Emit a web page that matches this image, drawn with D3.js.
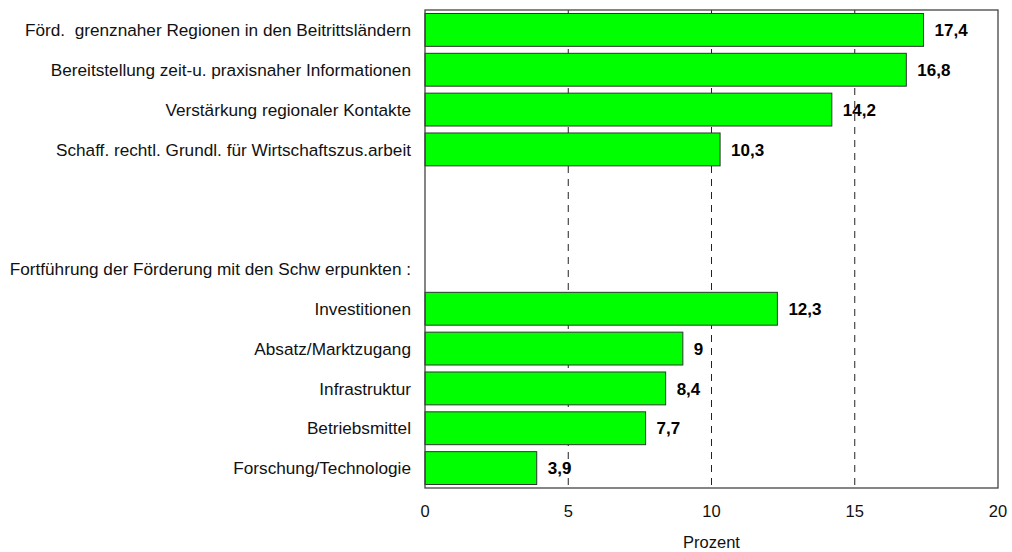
<!DOCTYPE html>
<html>
<head>
<meta charset="utf-8">
<script src="https://cdn.jsdelivr.net/npm/d3@7"></script>
<style>
  body { margin: 0; background: #fff; }
  svg { display: block; font-family: Arial, "Liberation Sans", sans-serif; }
  text { white-space: pre; }
</style>
</head>
<body>
<svg width="1012" height="552"></svg>
<script>
// rows from top to bottom; empty label / null value = spacer row
const categories = [
    "Förd.  grenznaher Regionen in den Beitrittsländern",
    "Bereitstellung zeit-u. praxisnaher Informationen",
    "Verstärkung regionaler Kontakte",
    "Schaff. rechtl. Grundl. für Wirtschaftszus.arbeit",
    "",
    "Fortführung der Förderung mit den Schw erpunkten :",
    "Investitionen",
    "Absatz/Marktzugang",
    "Infrastruktur",
    "Betriebsmittel",
    "Forschung/Technologie"
];
const values = [17.4, 16.8, 14.2, 10.3, null, null, 12.3, 9, 8.4, 7.7, 3.9];
const valueLabels = ["17,4", "16,8", "14,2", "10,3", "", "", "12,3", "9", "8,4", "7,7", "3,9"];
const xTicks = [0, 5, 10, 15, 20];
const xTitle = "Prozent";

const svg = d3.select("svg");
const margin = {top: 10, right: 14, bottom: 64, left: 425};
const width = +svg.attr("width"), height = +svg.attr("height");

const x = d3.scaleLinear().domain([0, 20]).range([margin.left, width - margin.right]);

// 12 slots: an extra blank slot sits above the "Fortführung" heading
const slots = d3.range(12);
const y = d3.scaleBand().domain(slots).range([margin.top, height - margin.bottom]).paddingInner(0.175).paddingOuter(0.0875);
const rowSlot = [0, 1, 2, 3, 4, 6, 7, 8, 9, 10, 11];

const rows = categories.map((c, i) => ({label: c, value: values[i], text: valueLabels[i], slot: rowSlot[i]}));

// dashed grid
svg.append("g")
    .selectAll("line")
    .data(xTicks.filter(t => t > 0 && t < 20))
    .enter().append("line")
    .attr("x1", d => x(d)).attr("x2", d => x(d))
    .attr("y1", margin.top).attr("y2", height - margin.bottom)
    .attr("stroke", "#222")
    .attr("stroke-width", 1)
    .attr("stroke-dasharray", "7,6");

// bars
svg.append("g")
    .selectAll("rect")
    .data(rows.filter(d => d.value != null))
    .enter().append("rect")
    .attr("x", x(0))
    .attr("y", d => y(d.slot))
    .attr("width", d => x(d.value) - x(0))
    .attr("height", y.bandwidth())
    .attr("fill", "#00ff00")
    .attr("stroke", "#333")
    .attr("stroke-width", 1);

// value labels
svg.append("g")
    .selectAll("text")
    .data(rows.filter(d => d.value != null))
    .enter().append("text")
    .attr("x", d => x(d.value) + 11)
    .attr("y", d => y(d.slot) + y.bandwidth() / 2)
    .attr("dy", "0.36em")
    .attr("font-size", 17)
    .attr("font-weight", "bold")
    .attr("fill", "#000")
    .text(d => d.text);

// category labels
svg.append("g")
    .selectAll("text")
    .data(rows.filter(d => d.label !== ""))
    .enter().append("text")
    .attr("x", 411)
    .attr("y", d => y(d.slot) + y.bandwidth() / 2)
    .attr("dy", "0.36em")
    .attr("text-anchor", "end")
    .attr("font-size", 17.2)
    .attr("fill", "#111")
    .text(d => d.label);

// frame
const frame = svg.append("g").attr("fill", "none").attr("stroke", "#444").attr("stroke-width", 1.3);
frame.append("rect")
    .attr("x", x(0)).attr("y", margin.top)
    .attr("width", x(20) - x(0)).attr("height", height - margin.bottom - margin.top);

// x axis labels
svg.append("g")
    .selectAll("text")
    .data(xTicks)
    .enter().append("text")
    .attr("x", d => x(d))
    .attr("y", 511)
    .attr("dy", "0.36em")
    .attr("text-anchor", "middle")
    .attr("font-size", 16.5)
    .attr("fill", "#111")
    .text(d => d);

svg.append("text")
    .attr("x", (x(0) + x(20)) / 2)
    .attr("y", 542)
    .attr("dy", "0.36em")
    .attr("text-anchor", "middle")
    .attr("font-size", 16.5)
    .attr("fill", "#111")
    .text(xTitle);
</script>
</body>
</html>
